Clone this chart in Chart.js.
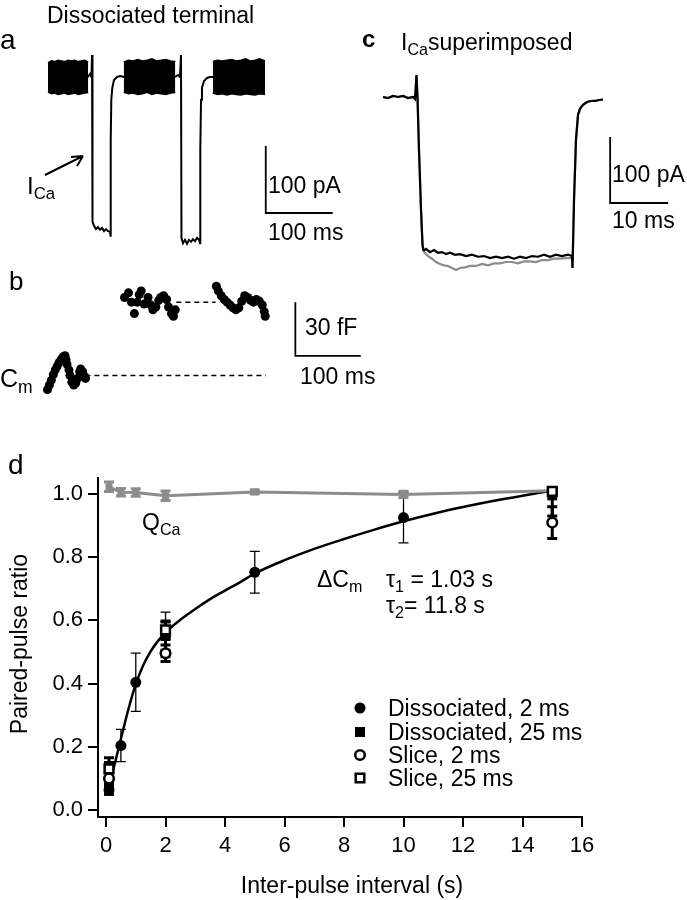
<!DOCTYPE html>
<html>
<head>
<meta charset="utf-8">
<script src="https://cdn.jsdelivr.net/npm/chart.js@4.4.0/dist/chart.umd.min.js"></script>
<style>
  body { margin: 0; background: #fff; }
  #fig { position: relative; width: 687px; height: 900px; overflow: hidden;
         font-family: "Liberation Sans", Arial, sans-serif; color: #000; }
  #fig canvas { position: absolute; }
  .lbl { position: absolute; white-space: nowrap; line-height: 1; }
  .lbl sub { font-size: 0.7em; vertical-align: -0.32em; line-height: 0; }
</style>
</head>
<body>
<div id="fig">
  <canvas id="traceA" width="360" height="220" style="left:0;top:40px"></canvas>
  <canvas id="traceB" width="380" height="150" style="left:0;top:262px"></canvas>
  <canvas id="traceC" width="327" height="240" style="left:360px;top:50px"></canvas>
  <canvas id="ppr" width="687" height="450" style="left:0;top:450px"></canvas>
  <svg width="687" height="300" style="position:absolute;left:0;top:0">
    <path d="M45 175 L83 156 M83 156 L71 157 M83 156 L77 166" stroke="#000" stroke-width="2" fill="none"/>
  </svg>
</div>
<script>
// ---- Panel a: dissociated terminal, current (time ms, current pA) ----
const aBlock1T = [0, 5, 10, 15, 20, 25, 30, 35, 40, 45, 50, 55, 60];
const aBlock1Hi = [24, 27, 26, 28, 27, 26, 28, 27, 28, 26, 27, 28, 25];
const aBlock1Lo = [-19, -22, -21, -23, -22, -21, -23, -22, -21, -23, -22, -21, -20];
const aBlock2T = [113, 120, 127, 134, 141, 148, 155, 162, 169, 176, 183, 190];
const aBlock2Hi = [25, 28, 27, 29, 27, 28, 30, 27, 28, 29, 27, 26];
const aBlock2Lo = [-20, -22, -21, -23, -22, -20, -23, -21, -22, -23, -21, -20];
const aBlock3T = [246, 253, 260, 267, 274, 281, 288, 295, 302, 309, 316, 324];
const aBlock3Hi = [26, 28, 27, 28, 29, 27, 28, 30, 27, 28, 30, 27];
const aBlock3Lo = [-21, -23, -22, -24, -22, -23, -24, -22, -23, -24, -22, -23];

const aPulse1T = [58, 60.5, 62.7, 64.9, 65.7, 66.4, 68.7, 71.6, 74.6, 77.6, 80.6, 83.6, 86.6, 89.6, 92.5, 93.3, 93.6, 94.5, 96.0, 98.5, 103.0, 107.5, 113.4];
const aPulse1I = [1.5, 4.5, 7.5, 3.0, 35.8, -213, -219, -224, -221, -225, -222, -227, -224, -227, -228, -234, -91, -31, -13, -1.5, 3.0, 4.5, 3.0];
const aPulse2T = [189.5, 194.0, 197.0, 198.5, 199.2, 201.5, 204.5, 207.5, 210.4, 213.4, 216.4, 219.4, 222.4, 225.4, 226.9, 227.3, 228.4, 229.8, 232.8, 237.3, 241.8, 246.3];
const aPulse2I = [3.0, 6.0, 3.0, 35.8, -237, -245, -240, -246, -240, -243, -239, -242, -237, -240, -245, -106, -31, -13, -3.0, 1.5, 3.0, 3.0];

const aBarT = [325, 325, 425];      // 100 ms
const aBarI = [-100, -200, -200];   // 100 pA

// ---- Panel b: capacitance (time ms, fF) ----
const bDots1T = [-6.0, -3.0, 0, 3.0, 6.0, 9.0, 11.9, 14.9, 17.9, 20.9, 22.4, 23.9, 26.9, 28.4, 31.3, 34.3, 37.3, 40.3, 43.3, 44.8, 47.8, 50.7, 52.2];
const bDots1F = [-7.9, -5.3, -2.6, 0.5, 3.2, 5.3, 7.4, 8.9, 10.5, 11.1, 8.9, 6.3, 3.2, 0, -3.7, -5.3, -4.2, -1.6, 2.1, 3.7, 2.1, -0.5, -1.6];
const bDots2T = [111.9, 117.9, 122.4, 126.9, 131.3, 134.3, 137.3, 141.8, 147.8, 152.2, 155.2, 159.7, 164.2, 167.2, 171.6, 176.1, 179.1, 183.6, 186.6, 189.5];
const bDots2F = [43.7, 46.3, 41.1, 34.7, 41.1, 45.3, 47.4, 40.0, 43.7, 39.5, 36.8, 38.4, 42.1, 43.7, 44.7, 42.6, 38.4, 34.7, 33.2, 36.8];
const bDots3T = [252.2, 255.2, 259.7, 264.2, 268.7, 273.1, 277.6, 282.1, 286.6, 291.0, 295.5, 300.0, 304.5, 309.0, 313.4, 317.9, 322.4, 325.4, 326.9];
const bDots3F = [50.0, 47.4, 44.7, 42.6, 41.1, 39.5, 37.9, 36.8, 37.9, 41.6, 44.7, 43.7, 42.1, 41.1, 42.6, 41.6, 39.5, 35.8, 33.2];
const bBase1T = [52, 328], bBase1F = [0, 0];
const bBase2T = [191, 251], bBase2F = [41, 41];
const bBarT = [373, 373, 473];   // 100 ms
const bBarF = [41, 11, 11];      // 30 fF

// ---- Panel c: ICa superimposed (time ms, pA) ----
const cPreT = [-5.86, -5.0, -4.14, -3.28, -2.41, -1.55, -0.69, -0.34, -0.09, 0.09, 0.34, 0.69, 0.95, 1.12];
const cPreI = [0, -1.5, 1.5, 0, 1.5, -1.5, 0, -3.0, 33.3, -1.5, -80, -171, -224, -233];
const cBlackT = [1.55, 2.24, 2.93, 3.62, 4.31, 5.0, 5.69, 6.55, 7.41, 8.45, 9.48, 10.52, 11.55, 12.59, 13.62, 14.65, 15.69, 16.72, 17.76, 18.79, 19.83, 20.86, 21.89, 22.93, 23.96, 24.99, 26.03, 26.72];
const cBlackI = [-230, -235, -232, -236, -235, -238, -236, -239, -238, -241, -239, -242, -241, -244, -242, -244, -242, -245, -242, -244, -241, -242, -239, -242, -239, -241, -239, -241];
const cGrayT = [1.21, 1.9, 2.59, 3.28, 3.97, 4.65, 5.34, 6.03, 6.72, 7.41, 8.28, 9.14, 10.17, 11.21, 12.24, 13.27, 14.31, 15.34, 16.38, 17.41, 18.45, 19.48, 20.52, 21.55, 22.58, 23.62, 24.65, 25.69, 26.72];
const cGrayI = [-235, -241, -245, -250, -253, -255, -256, -259, -262, -259, -258, -256, -256, -253, -255, -252, -252, -250, -250, -252, -249, -249, -250, -247, -247, -245, -245, -244, -244];
const cPostT = [26.81, 27.07, 27.41, 27.76, 28.1, 28.62, 29.31, 30.0, 30.69, 31.38, 32.07];
const cPostI = [-259, -156, -65, -27, -18, -12, -7.6, -6.1, -6.0, -4.5, -3.8];
const cBarT = [33.3, 33.3, 43.3];      // 10 ms
const cBarI = [-60.6, -160.6, -160.6]; // 100 pA

// ---- Panel d: paired-pulse ratio vs inter-pulse interval (s) ----
const xTicks = [0, 2, 4, 6, 8, 10, 12, 14, 16];
const yTicks = [0, 0.2, 0.4, 0.6, 0.8, 1.0];

const qcaX = [0.1, 0.5, 1, 2, 5, 10, 15];
const qcaY = [1.022, 1.005, 1.004, 0.994, 1.006, 0.998, 1.01];
const qcaErr = [0.015, 0.012, 0.012, 0.015, 0.006, 0.01, 0.01];

const diss2X = [0.1, 0.5, 1, 2, 5, 10];
const diss2Y = [0.063, 0.204, 0.404, 0.554, 0.752, 0.925];
const diss2Err = [0.016, 0.051, 0.092, 0.072, 0.066, 0.08];

// dissociated 25 ms: error bars are asymmetric at 15 s
const diss25X = [0.1, 2, 15];
const diss25Y = [0.08, 0.55, 0.995];
const diss25ErrUp = [0.02, 0.045, 0.012];
const diss25ErrDown = [0.02, 0.045, 0.065];

const slice2X = [0.1, 2, 15];
const slice2Y = [0.10, 0.496, 0.909];
const slice2Err = [0.05, 0.026, 0.05];

const slice25X = [0.1, 2, 15];
const slice25Y = [0.13, 0.57, 1.008];
const slice25Err = [0.035, 0.028, 0.012];

// double-exponential fit
const fitX = [0.1, 0.25, 0.5, 0.75, 1.0, 1.25, 1.5, 1.75, 2.0, 2.5, 3.0, 3.5, 4.0, 4.5, 5, 6, 7, 8, 9, 10, 11, 12, 13, 14, 15];
const fitY = [0.075, 0.13, 0.225, 0.318, 0.398, 0.458, 0.502, 0.535, 0.562, 0.602, 0.636, 0.667, 0.694, 0.72, 0.748, 0.79, 0.826, 0.857, 0.886, 0.913, 0.937, 0.958, 0.977, 0.994, 1.01];

const legendNames = ['Dissociated, 2 ms', 'Dissociated, 25 ms', 'Slice, 2 ms', 'Slice, 25 ms'];

Chart.defaults.font.family = '"Liberation Sans", Arial, sans-serif';
Chart.defaults.color = '#000';

const GRAY = '#8c8c8c';

function xy(xs, ys) {
  return xs.map((x, i) => ({ x: x, y: ys[i] }));
}

function trace(xs, ys, color, width, extra) {
  return Object.assign({
    data: xy(xs, ys),
    borderColor: color,
    backgroundColor: color,
    borderWidth: width,
    pointRadius: 0,
    fill: false,
    tension: 0
  }, extra || {});
}

// Axis-less chart for the raw traces
function traceChart(id, xRange, yRange, datasets) {
  return new Chart(document.getElementById(id), {
    type: 'line',
    data: { datasets: datasets },
    options: {
      responsive: false,
      animation: false,
      devicePixelRatio: 1,
      layout: { padding: 0 },
      scales: {
        x: { type: 'linear', min: xRange[0], max: xRange[1], display: false },
        y: { type: 'linear', min: yRange[0], max: yRange[1], display: false }
      },
      plugins: { legend: { display: false }, tooltip: { enabled: false } }
    }
  });
}

traceChart('traceA', [-71.64, 465.66], [-270.1, 58.2], [
  trace(aBlock1T, aBlock1Hi, '#000', 1.5),
  trace(aBlock1T, aBlock1Lo, '#000', 1.5, { fill: '-1' }),
  trace(aBlock2T, aBlock2Hi, '#000', 1.5),
  trace(aBlock2T, aBlock2Lo, '#000', 1.5, { fill: '-1' }),
  trace(aBlock3T, aBlock3Hi, '#000', 1.5),
  trace(aBlock3T, aBlock3Lo, '#000', 1.5, { fill: '-1' }),
  trace(aPulse1T, aPulse1I, '#000', 2),
  trace(aPulse2T, aPulse2I, '#000', 2),
  trace(aBarT, aBarI, '#000', 1.8)
]);

const dots = { showLine: false, pointRadius: 4.5, pointBackgroundColor: '#000', pointBorderWidth: 0 };
const dashed = { borderDash: [5, 4] };
traceChart('traceB', [-71.64, 495.5], [-17.9, 61.05], [
  trace(bBase1T, bBase1F, '#000', 1.5, dashed),
  trace(bBase2T, bBase2F, '#000', 1.5, dashed),
  trace(bDots1T, bDots1F, '#000', 0, dots),
  trace(bDots2T, bDots2F, '#000', 0, dots),
  trace(bDots3T, bDots3F, '#000', 0, dots),
  trace(bBarT, bBarF, '#000', 1.8)
]);

traceChart('traceC', [-9.83, 46.55], [-292.4, 71.2], [
  trace(cPreT, cPreI, '#000', 2.2),
  trace(cPreT.concat(cGrayT, cPostT), cPreI.concat(cGrayI, cPostI), GRAY, 2.2, { order: 1 }),
  trace([cPreT[cPreT.length - 1]].concat(cBlackT, cPostT), [cPreI[cPreI.length - 1]].concat(cBlackI, cPostI), '#000', 2.2),
  trace(cBarT, cBarI, '#000', 1.8)
]);

// Error bars drawn under the markers
const errorBars = {
  id: 'errorBars',
  beforeDatasetsDraw(chart) {
    const ctx = chart.ctx;
    const xs = chart.scales.x, ys = chart.scales.y;
    chart.data.datasets.forEach(ds => {
      if (!ds.errUp) return;
      ctx.save();
      ctx.strokeStyle = ds.errColor;
      ctx.lineWidth = ds.errWidth;
      ds.data.forEach((p, i) => {
        const px = xs.getPixelForValue(p.x);
        const top = ys.getPixelForValue(p.y + ds.errUp[i]);
        const bot = ys.getPixelForValue(p.y - ds.errDown[i]);
        ctx.beginPath();
        ctx.moveTo(px, top); ctx.lineTo(px, bot);
        ctx.moveTo(px - 5, top); ctx.lineTo(px + 5, top);
        ctx.moveTo(px - 5, bot); ctx.lineTo(px + 5, bot);
        ctx.stroke();
      });
      ctx.restore();
    });
  }
};

// Legend markers (text is HTML)
const legendMarks = {
  id: 'legendMarks',
  afterDraw(chart) {
    const ctx = chart.ctx;
    const rowsY = [258, 282, 305, 328];
    const styles = [
      { shape: 'circle', fill: '#000', r: 5.5 },
      { shape: 'rect', fill: '#000', r: 5 },
      { shape: 'circle', fill: '#fff', r: 4.8 },
      { shape: 'rect', fill: '#fff', r: 4.3 }
    ];
    ctx.save();
    ctx.strokeStyle = '#000';
    ctx.lineWidth = 2.5;
    styles.forEach((s, i) => {
      const x = 360, y = rowsY[i];
      ctx.fillStyle = s.fill;
      ctx.beginPath();
      if (s.shape === 'circle') ctx.arc(x, y, s.r, 0, Math.PI * 2);
      else ctx.rect(x - s.r, y - s.r, 2 * s.r, 2 * s.r);
      ctx.fill();
      if (s.fill === '#fff') ctx.stroke();
    });
    ctx.restore();
  }
};

function series(xs, ys, errUp, errDown, extra) {
  return Object.assign({
    data: xy(xs, ys),
    errUp: errUp,
    errDown: errDown,
    errColor: '#000',
    errWidth: 3,
    showLine: false,
    pointBorderColor: '#000',
    pointBorderWidth: 0
  }, extra);
}

new Chart(document.getElementById('ppr'), {
  type: 'scatter',
  data: {
    datasets: [
      series(slice25X, slice25Y, slice25Err, slice25Err, { order: 0, pointStyle: 'rect', pointRadius: 6.2, pointBackgroundColor: '#fff', pointBorderWidth: 2.5 }),
      series(slice2X, slice2Y, slice2Err, slice2Err, { order: 1, pointStyle: 'circle', pointRadius: 4.8, pointBackgroundColor: '#fff', pointBorderWidth: 2.5 }),
      series(diss25X, diss25Y, diss25ErrUp, diss25ErrDown, { order: 2, pointStyle: 'rect', pointRadius: 7, pointBackgroundColor: '#000' }),
      series(diss2X, diss2Y, diss2Err, diss2Err, { order: 3, pointStyle: 'circle', pointRadius: 5.5, pointBackgroundColor: '#000', errWidth: 1.3 }),
      series(qcaX, qcaY, qcaErr, qcaErr, { order: 4, showLine: true, borderColor: GRAY, borderWidth: 3, pointStyle: 'rect', pointRadius: 5, pointBackgroundColor: GRAY, errColor: GRAY }),
      { order: 5, data: xy(fitX, fitY), showLine: true, borderColor: '#000', borderWidth: 2.5, pointRadius: 0, cubicInterpolationMode: 'monotone' }
    ]
  },
  options: {
    responsive: false,
    animation: false,
    devicePixelRatio: 1,
    layout: { padding: { top: 28, right: 105, bottom: 0, left: 0 } },
    scales: {
      x: {
        type: 'linear', min: -0.27, max: 16,
        afterBuildTicks: s => { s.ticks = xTicks.map(v => ({ value: v })); },
        afterFit: s => { s.height = 83; },
        grid: { drawOnChartArea: false, drawTicks: true, tickLength: 10, tickWidth: 2, tickColor: '#000', lineWidth: 2 },
        border: { display: true, color: '#000', width: 2 },
        ticks: { font: { size: 22 }, padding: 6, maxRotation: 0, autoSkip: false }
      },
      y: {
        type: 'linear', min: -0.022, max: 1.05,
        afterBuildTicks: s => { s.ticks = yTicks.map(v => ({ value: v })); },
        afterFit: s => { s.width = 98; },
        grid: { drawOnChartArea: false, drawTicks: true, tickLength: 10, tickWidth: 2, tickColor: '#000', lineWidth: 2 },
        border: { display: true, color: '#000', width: 2 },
        ticks: { font: { size: 22 }, padding: 5, callback: v => v.toFixed(1) }
      }
    },
    plugins: { legend: { display: false }, tooltip: { enabled: false } }
  },
  plugins: [errorBars, legendMarks]
});

// ---- Text labels: [html, left, baseline, size, extra css] ----
const labels = [
  ['Dissociated terminal', 47, 23, 23],
  ['a', 0, 50, 28],
  ['I<sub>Ca</sub>', 27, 194, 24],
  ['100 pA', 268, 193, 23],
  ['100 ms', 268, 240, 23],
  ['b', 9, 290, 26],
  ['C<sub>m</sub>', 0, 387, 25],
  ['30 fF', 305, 335, 23],
  ['100 ms', 300, 384, 23],
  ['c', 362, 47, 24, 'font-weight:bold'],
  ['I<sub>Ca</sub>superimposed', 401, 50, 23],
  ['100 pA', 612, 182, 23],
  ['10 ms', 612, 228, 23],
  ['d', 8, 475, 28],
  ['Q<sub>Ca</sub>', 142, 530, 23],
  ['\u0394C<sub>m</sub>', 317, 587, 23],
  ['\u03c4<sub>1</sub> = 1.03 s', 386, 587, 23],
  ['\u03c4<sub>2</sub>= 11.8 s', 386, 613, 23],
  [legendNames[0], 388, 716, 23],
  [legendNames[1], 388, 740, 23],
  [legendNames[2], 388, 763, 23],
  [legendNames[3], 388, 786, 23]
];
const fig = document.getElementById('fig');
labels.forEach(([html, x, base, size, css]) => {
  const d = document.createElement('div');
  d.className = 'lbl';
  d.innerHTML = html;
  d.style.cssText = `left:${x}px;top:${base - 0.8465 * size}px;font-size:${size}px;${css || ''}`;
  fig.appendChild(d);
});

// Axis titles
const xt = document.createElement('div');
xt.className = 'lbl';
xt.textContent = 'Inter-pulse interval (s)';
xt.style.cssText = 'left:352px;top:885px;font-size:23px;transform:translate(-50%,-50%)';
fig.appendChild(xt);
const yt = document.createElement('div');
yt.className = 'lbl';
yt.textContent = 'Paired-pulse ratio';
yt.style.cssText = 'left:19px;top:644px;font-size:23px;transform:translate(-50%,-50%) rotate(-90deg)';
fig.appendChild(yt);
</script>
</body>
</html>
